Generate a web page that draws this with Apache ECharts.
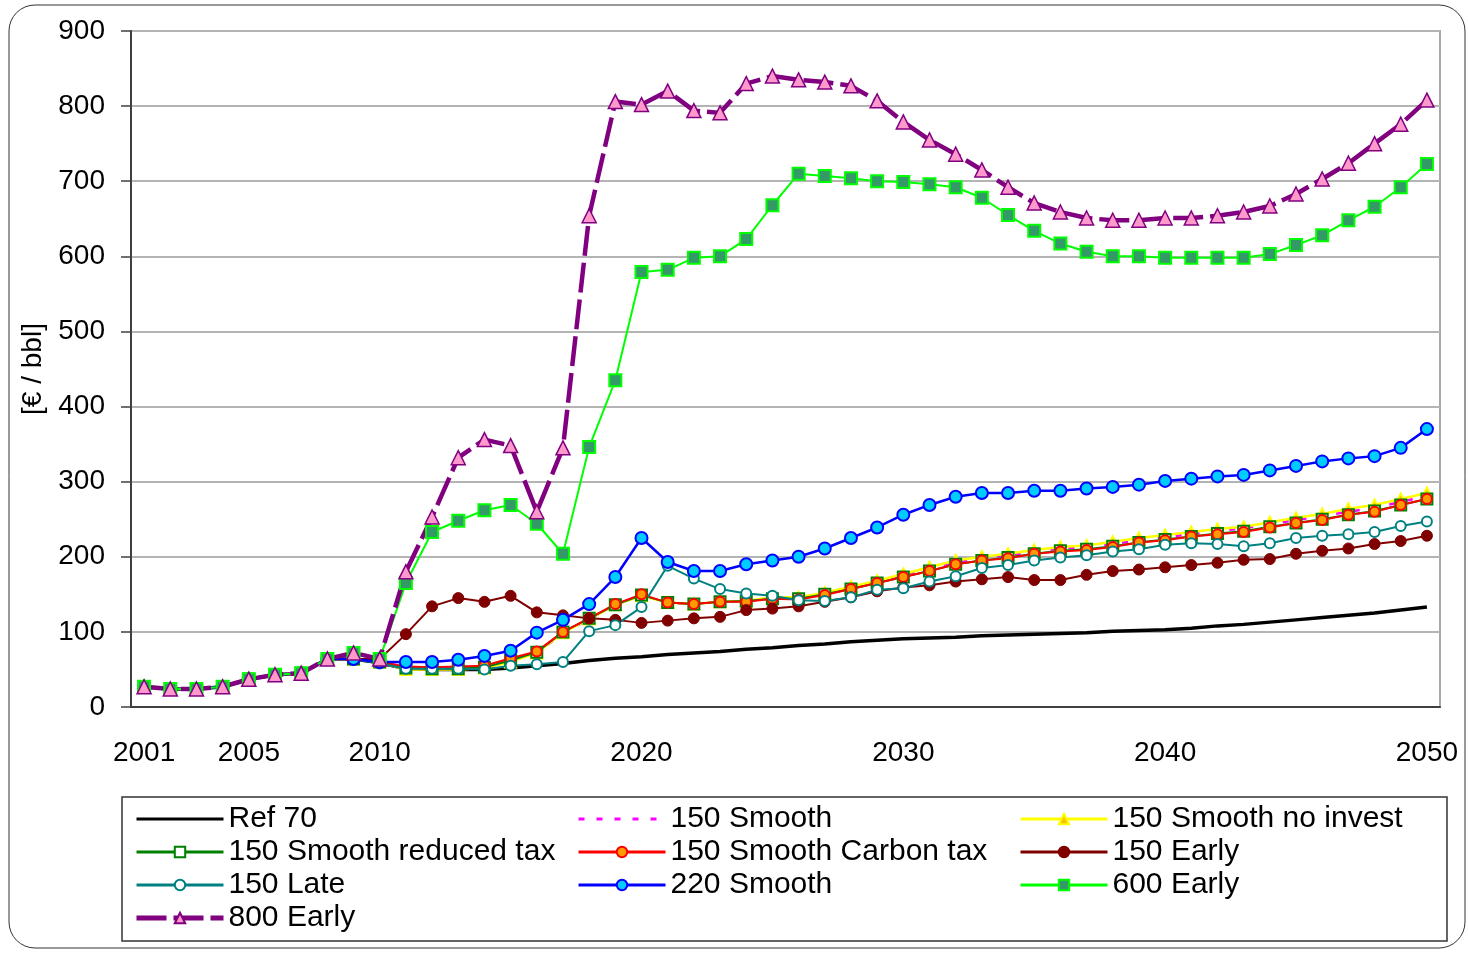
<!DOCTYPE html>
<html>
<head>
<meta charset="utf-8">
<script src="https://cdn.jsdelivr.net/npm/echarts@6/dist/echarts.min.js"></script>
<style>
  html, body { margin: 0; padding: 0; background: #fff; }
  #chart { width: 1468px; height: 954px; }
</style>
</head>
<body>
<div id="chart"></div>
<script>
const years = ['2001','2002','2003','2004','2005','2006','2007','2008','2009','2010',
  '2011','2012','2013','2014','2015','2016','2017','2018','2019','2020',
  '2021','2022','2023','2024','2025','2026','2027','2028','2029','2030',
  '2031','2032','2033','2034','2035','2036','2037','2038','2039','2040',
  '2041','2042','2043','2044','2045','2046','2047','2048','2049','2050']
const shownYears = ['2001', '2005', '2010', '2020', '2030', '2040', '2050']

const ref70 = [27,24,24,27,37,43,45,64,64,59,
  51,50,50,50,52,55,58,62,65,67,
  70,72,74,77,79,82,84,87,89,91,
  92,93,95,96,97,98,99,101,102,103,
  105,108,110,113,116,119,122,125,129,133]
const smooth150 = [27,24,24,27,37,43,45,64,64,60,
  53,52,53,54,62,72,98,117,136,149,
  139,137,140,141,145,145,151,159,167,176,
  184,193,198,202,207,211,213,217,222,226,
  230,234,238,243,249,254,260,265,273,281]
const noInvest150 = [27,24,24,27,37,43,45,64,64,60,
  50,50,50,52,60,72,99,117,136,148,
  139,137,140,141,146,146,152,160,168,177,
  186,195,200,204,209,213,215,220,225,229,
  233,237,240,246,252,257,264,269,277,285]
const reducedTax150 = [27,24,24,27,37,43,45,64,64,60,
  52,51,51,53,62,73,100,118,136,149,
  139,137,140,141,144,144,150,157,165,173,
  181,190,195,199,204,208,210,214,219,223,
  227,231,234,240,245,250,256,261,269,277]
const carbonTax150 = [27,24,24,27,37,43,45,64,64,60,
  54,53,54,55,65,74,100,118,137,150,
  139,137,140,140,144,143,149,157,165,173,
  181,190,195,198,204,207,209,213,219,222,
  227,230,233,239,245,249,256,260,269,277]
const early150 = [27,24,24,27,37,43,45,64,64,64,
  97,134,145,140,148,126,122,118,116,112,
  115,118,120,129,131,134,140,146,154,159,
  162,167,170,173,169,169,176,181,183,186,
  189,192,196,197,204,208,211,217,221,228]
const late150 = [27,24,24,27,37,43,45,64,64,58,
  51,51,51,50,55,57,60,101,109,133,
  188,171,157,151,148,142,141,146,156,158,
  167,174,185,189,195,199,202,207,210,216,
  218,217,214,218,225,228,230,233,241,247]
const smooth220 = [27,24,24,27,37,43,45,64,64,60,
  60,60,63,68,75,99,116,137,173,225,
  193,181,181,190,195,200,211,225,239,256,
  269,280,285,285,288,288,291,293,296,301,
  304,307,309,315,321,327,331,334,345,370]
const early600 = [27,24,24,27,37,43,45,64,72,64,
  165,233,248,262,269,244,204,346,435,579,
  582,598,600,623,668,710,707,704,700,699,
  696,692,678,655,634,617,606,600,600,598,
  598,598,598,603,615,628,648,666,692,723]
const early800 = [27,24,24,27,37,43,45,64,72,64,
  180,253,332,356,348,260,345,654,806,802,
  820,794,791,830,840,835,832,827,807,779,
  755,736,715,692,671,659,651,648,648,651,
  651,654,659,667,683,703,724,750,776,808]

const font = 'Liberation Sans, Arial, sans-serif'

function lineSeries (name, data, color, width, extra) {
  return Object.assign({
    name: name,
    type: 'line',
    data: data,
    symbol: 'none',
    lineStyle: { color: color, width: width },
    itemStyle: { color: color }
  }, extra || {})
}

// legend entries for the plain lines get no marker
function plainItem (name) {
  return { name: name, itemStyle: { opacity: 0 } }
}

let chart = echarts.init(document.getElementById('chart'))

let legendBase = {
  orient: 'vertical',
  top: 799,
  itemWidth: 87,
  itemHeight: 13,
  itemGap: 3,
  selectedMode: false,
  lineStyle: { width: 3 },
  textStyle: { color: '#000', fontSize: 30, fontFamily: font, lineHeight: 28 }
}

let option = {
  backgroundColor: '#fff',
  animation: false,
  graphic: [
    {
      type: 'rect',
      shape: { x: 9, y: 5, width: 1456, height: 943, r: 26 },
      style: { fill: 'none', stroke: '#333', lineWidth: 1 },
      silent: true
    },
    {
      type: 'rect',
      shape: { x: 122, y: 797, width: 1325, height: 144 },
      style: { fill: 'none', stroke: '#333', lineWidth: 1.5 },
      silent: true
    }
  ],
  legend: [
    Object.assign({}, legendBase, {
      left: 129,
      data: [plainItem('Ref 70'), '150 Smooth reduced tax', '150 Late',
        { name: '800 Early', lineStyle: { width: 5 } }]
    }),
    Object.assign({}, legendBase, {
      left: 572,
      data: [plainItem('150 Smooth'), '150 Smooth Carbon tax', '220 Smooth']
    }),
    Object.assign({}, legendBase, {
      left: 1014,
      data: ['150 Smooth no invest', '150 Early', '600 Early']
    })
  ],
  grid: {
    left: 131,
    right: 28,
    top: 31,
    bottom: 247,
    show: true,
    borderColor: '#a8a8a8',
    borderWidth: 2
  },
  xAxis: {
    type: 'category',
    data: years,
    boundaryGap: true,
    axisLine: { lineStyle: { color: '#404040', width: 2 } },
    axisTick: { interval: 1, length: 10, lineStyle: { color: '#404040', width: 1.5 } },
    axisLabel: {
      interval: function (idx, value) { return shownYears.indexOf(value) >= 0 },
      margin: 32,
      color: '#000',
      fontSize: 28,
      fontFamily: font
    },
    splitLine: { show: false }
  },
  yAxis: {
    type: 'value',
    min: 0,
    max: 900,
    interval: 100,
    name: '[€ / bbl]',
    nameLocation: 'middle',
    nameRotate: 90,
    nameGap: 82,
    nameTextStyle: { color: '#000', fontSize: 28, fontFamily: font },
    axisLine: { show: true, lineStyle: { color: '#404040', width: 2 } },
    axisTick: { show: true, length: 10, lineStyle: { color: '#404040', width: 1.5 } },
    axisLabel: { margin: 26, color: '#000', fontSize: 28, fontFamily: font },
    splitLine: { lineStyle: { color: '#b4b4b4', width: 2 } }
  },
  series: [
    lineSeries('Ref 70', ref70, '#000000', 3.5),
    lineSeries('150 Smooth', smooth150, '#ff00ff', 2.5, {
      lineStyle: { color: '#ff00ff', width: 2.5, type: [6, 12] }
    }),
    lineSeries('150 Smooth no invest', noInvest150, '#ffff00', 2.5, {
      symbol: 'triangle',
      symbolSize: 11,
      itemStyle: { color: '#ffc000', borderColor: '#ffff00', borderWidth: 2 }
    }),
    lineSeries('150 Smooth reduced tax', reducedTax150, '#008000', 2, {
      symbol: 'rect',
      symbolSize: 11,
      itemStyle: { color: '#ffffff', borderColor: '#008000', borderWidth: 2 }
    }),
    lineSeries('150 Smooth Carbon tax', carbonTax150, '#ff0000', 2, {
      symbol: 'circle',
      symbolSize: 10,
      itemStyle: { color: '#ff9900', borderColor: '#ff0000', borderWidth: 2 }
    }),
    lineSeries('150 Early', early150, '#800000', 2, {
      symbol: 'circle',
      symbolSize: 11,
      itemStyle: { color: '#800000', borderColor: '#800000', borderWidth: 1 }
    }),
    lineSeries('150 Late', late150, '#008080', 2, {
      symbol: 'circle',
      symbolSize: 10,
      itemStyle: { color: '#ffffff', borderColor: '#008080', borderWidth: 2 }
    }),
    lineSeries('220 Smooth', smooth220, '#0000ff', 2.5, {
      symbol: 'circle',
      symbolSize: 12,
      itemStyle: { color: '#00ccff', borderColor: '#0000ff', borderWidth: 2 }
    }),
    lineSeries('600 Early', early600, '#00ff00', 2, {
      symbol: 'rect',
      symbolSize: 12,
      itemStyle: { color: '#339966', borderColor: '#00ff00', borderWidth: 2 }
    }),
    lineSeries('800 Early', early800, '#800080', 4.5, {
      lineStyle: { color: '#800080', width: 4.5, type: [30, 7] },
      symbol: 'triangle',
      symbolSize: 14,
      itemStyle: { color: '#ff99cc', borderColor: '#800080', borderWidth: 1.5 }
    })
  ]
}

chart.setOption(option)
</script>
</body>
</html>
